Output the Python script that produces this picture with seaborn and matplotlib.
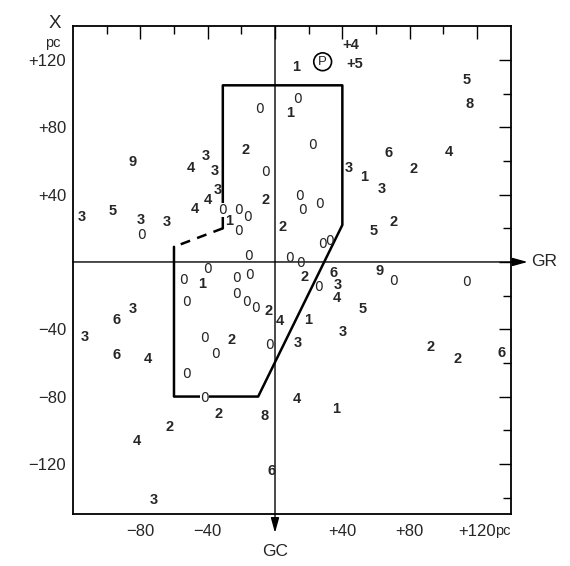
import matplotlib
matplotlib.use("Agg")
import matplotlib.pyplot as plt
import seaborn as sns

# star counts written on the map: position in pc and the number shown
count_x = [-9.5, -84.5, -41, -50, -36, -17.4, -5.5, -34, -40, -5.5,
           -115, -96.5, -79.5, -79.5, -64.3, -47.5, -27, -21.4, -16.2, -21.8,
           -15.8, 12.5, 13.2, 8.9, 22.4, 43.7, 67.7, 103, 82, 53,
           63.3, 113.8, 115.7, 14.4, 16.2, 26.7, 4.3, 58.3, 70.2, 28.3,
           32.6, 8.5, 15.4, -54.4, -40.2, -43, -22.7, -15.4, -52.4, -22.7,
           -17, -11.8, -4, 3, -84.5, -94, -112.8, -94, -75.8, -42,
           -25.7, -35.6, -3.4, -52.8, -33.6, -6, -62.7, -82, -2, -72.2,
           17.8, 25.7, 35, 37.2, 37, 62.3, 70.2, 113.8, 51.8, 19.4,
           40.5, 13.8, 92.4, 108.2, 134.5, 12.9, 36.2]
count_y = [92, 60.5, 63.7, 56.5, 55, 67.7, 54.6, 43.6, 38, 37.5,
           27.4, 31.4, 25.8, 17.2, 24.4, 32.3, 25.4, 32, 27.4, 19.5,
           4.6, 116.7, 97.8, 89.3, 70.7, 57, 65.7, 66.5, 56.1, 51.2,
           44.2, 109.3, 94.8, 40.3, 32, 35.3, 21.8, 19.5, 24.8, 11.5,
           13.5, 3.2, 0, -9.9, -3.4, -12.3, -8.7, -7, -23.2, -18.3,
           -23, -26.5, -28.2, -34, -27.2, -33.5, -44, -54.4, -56.5, -44.5,
           -45.4, -53.6, -48.6, -65.9, -89.3, -90.7, -97.2, -105.5, -123.4, -140.7,
           -7.9, -13.9, -5.8, -12.8, -20.3, -4.3, -10.3, -11.3, -26.8, -33.7,
           -40.7, -47.4, -49.6, -56.5, -53.4, -80.4, -86.7]
count_text = ["0", "9", "3", "4", "3", "2", "0", "3", "4", "2",
              "3", "5", "3", "0", "3", "4", "1", "0", "0", "0",
              "0", "1", "0", "1", "0", "3", "6", "4", "2", "1",
              "3", "5", "8", "0", "0", "0", "2", "5", "2", "0",
              "0", "0", "0", "0", "0", "1", "0", "0", "0", "0",
              "0", "0", "2", "4", "3", "6", "3", "6", "4", "0",
              "2", "0", "0", "0", "2", "8", "2", "4", "6", "3",
              "2", "0", "6", "3", "4", "9", "0", "0", "5", "1",
              "3", "3", "2", "2", "6", "4", "1"]

# zeros that sit on the boundary line
edge_x = [-31, -42]
edge_y = [31.5, -80]

# counts marked with a plus near the top
plus_x = [45, 47.5]
plus_y = [130, 118.6]
plus_text = ["+4", "+5"]

# circled P
p_x = 28.3
p_y = 119

# boundary of the region
region_x = [-60, -60, -10, 40, 40, -31, -31]
region_y = [9, -80, -80, 22, 105, 105, 20]
gap_x = [-31, -60]
gap_y = [20, 9]

xticks = [-80, -40, 0, 40, 80, 120]
xtick_labels = ["\u221280", "\u221240", "", "+40", "+80", "+120"]
yticks = [-120, -80, -40, 0, 40, 80, 120]
ytick_labels = ["\u2212120", "\u221280", "\u221240", "", "+40", "+80", "+120"]
xminor = [-100, -60, -20, 20, 60, 100]
yminor = [-140, -100, -60, -20, 20, 60, 100]

sns.set_style("white")
plt.rcParams["font.family"] = ["Liberation Sans", "DejaVu Sans"]

fig = plt.figure(figsize=(5.7, 5.66), dpi=100)
ax = fig.add_axes([0.128, 0.0913, 0.768, 0.862])

sns.lineplot(x=region_x, y=region_y, sort=False, estimator=None,
             color="black", linewidth=1.8, ax=ax)
sns.lineplot(x=gap_x, y=gap_y, sort=False, estimator=None,
             color="black", linewidth=1.8, linestyle=(0, (4, 3)), ax=ax)

ax.set_xlim(-120, 140)
ax.set_ylim(-150, 140)

# GR and GC axes through the origin
arrow = dict(arrowstyle="-|>,head_length=0.9,head_width=0.25", color="black",
             lw=1.0, mutation_scale=10, shrinkA=0, shrinkB=0)
ax.annotate("", xy=(150, 0), xytext=(-120, 0), arrowprops=arrow,
            annotation_clip=False)
ax.annotate("", xy=(0, -161), xytext=(0, 140), arrowprops=arrow,
            annotation_clip=False)
ax.text(152, 0, "GR", ha="left", va="center", fontsize=12.5)
ax.text(0, -172, "GC", ha="center", va="center", fontsize=12.5)

zero_font = dict(family="DejaVu Sans", fontsize=10)
for x, y, t in zip(count_x, count_y, count_text):
    if t == "0":
        ax.text(x, y, t, ha="center", va="center_baseline", **zero_font)
    else:
        ax.text(x, y, t, ha="center", va="center_baseline", fontsize=10.5,
                fontweight="bold")

for x, y in zip(edge_x, edge_y):
    ax.text(x, y, "0", ha="center", va="center_baseline", **zero_font,
            bbox=dict(boxstyle="square,pad=0", fc="white", ec="none"))

for x, y, t in zip(plus_x, plus_y, plus_text):
    ax.text(x, y, t, ha="center", va="center_baseline", fontsize=10.5,
            fontweight="bold")

ax.text(p_x, p_y, "P", ha="center", va="center", fontsize=9.5,
        bbox=dict(boxstyle="circle,pad=0.22", fc="white", ec="black", lw=1.2))

# ticks
ax.set_xticks(xticks)
ax.set_xticklabels(xtick_labels)
ax.set_yticks(yticks)
ax.set_yticklabels(ytick_labels)
ax.set_xticks(xminor, minor=True)
ax.set_yticks(yminor, minor=True)
ax.tick_params(which="both", direction="in", top=True, right=True,
               width=1.0, color="black", labelsize=12)
ax.tick_params(which="major", length=9)
ax.tick_params(which="minor", length=5.5)
ax.xaxis.set_tick_params(pad=7)
ax.yaxis.set_tick_params(pad=5)

for s in ax.spines.values():
    s.set_linewidth(1.3)
    s.set_color("black")

ax.annotate("pc", xy=(120, 0), xycoords=("data", "axes fraction"),
            xytext=(13, -15), textcoords="offset points",
            ha="left", va="baseline", fontsize=10.5)
ax.text(-0.041, 1.005, "X", transform=ax.transAxes, ha="center",
        va="center", fontsize=13.5)
ax.text(-0.046, 0.9666, "pc", transform=ax.transAxes, ha="center",
        va="center", fontsize=10.5)

fig.savefig("out.png", dpi=100)
